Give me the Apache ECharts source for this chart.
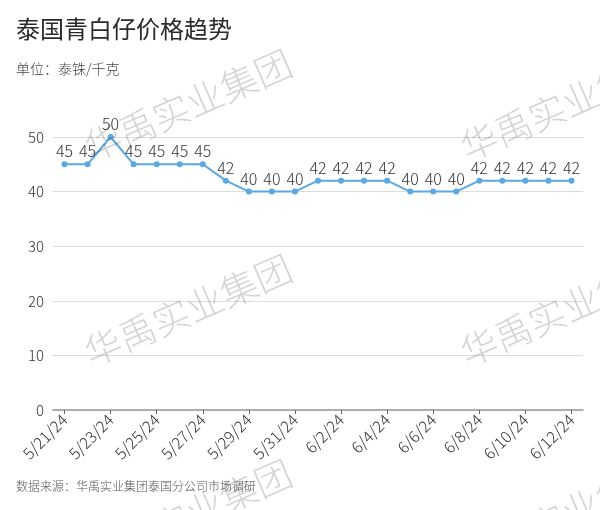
<!DOCTYPE html>
<html>
<head>
<meta charset="utf-8">
<script src="https://cdn.jsdelivr.net/npm/echarts@6/dist/echarts.min.js"></script>
<style>
html,body{margin:0;padding:0;background:#fff;}
#c{width:600px;height:510px;}
</style>
</head>
<body>
<div id="c"></div>
<script>
var categories = ['5/21/24','5/22/24','5/23/24','5/24/24','5/25/24','5/26/24','5/27/24','5/28/24','5/29/24','5/30/24','5/31/24','6/1/24','6/2/24','6/3/24','6/4/24','6/5/24','6/6/24','6/7/24','6/8/24','6/9/24','6/10/24','6/11/24','6/12/24'];
var prices = [45,45,50,45,45,45,45,42,40,40,40,42,42,42,42,40,40,40,42,42,42,42,42];
var yTicks = [0,10,20,30,40,50];
var titleText = '泰国青白仔价格趋势';
var unitText = '单位：泰铢/千克';
var sourceText = '数据来源：华禹实业集团泰国分公司市场调研';
var watermarkText = '华禹实业集团';

var font = '"Noto Sans CJK SC", "Noto Sans", sans-serif';
var chart = echarts.init(document.getElementById('c'), null, {renderer:'canvas'});

var wmPos = [[188,105],[564,105],[188,310],[564,310],[188,515],[564,515]];
var graphics = [
  {type:'text', left:16, top:17, style:{text:titleText, font:'24px '+font, fill:'#2a2a2a'}},
  {type:'text', left:16, top:62, style:{text:unitText, font:'300 14px '+font, fill:'#444'}},
  {type:'text', left:16, top:480, style:{text:sourceText, font:'300 12px '+font, fill:'#555'}}
];
wmPos.forEach(function(p){
  graphics.push({type:'text', x:p[0], y:p[1], rotation:0.41, z:100, silent:true,
    style:{text:watermarkText, font:'300 37px '+font, fill:'rgba(0,0,0,0.17)', textAlign:'center', textVerticalAlign:'middle'}});
});

chart.setOption({
  animation:false,
  textStyle:{fontFamily:font},
  grid:{left:53, right:17, top:137, bottom:100, containLabel:false},
  graphic:graphics,
  xAxis:{
    type:'category', data:categories, boundaryGap:true,
    axisLine:{lineStyle:{color:'#999', width:1.5}},
    axisTick:{show:true, interval:1, alignWithLabel:true, length:4, lineStyle:{color:'#666'}},
    axisLabel:{interval:1, rotate:45, fontSize:16, fontWeight:300, color:'#333', margin:7, fontFamily:font}
  },
  yAxis:{
    type:'value', min:yTicks[0], max:yTicks[yTicks.length-1], interval:10,
    axisLine:{show:false}, axisTick:{show:false},
    axisLabel:{fontSize:15, fontWeight:300, color:'#333', margin:9, fontFamily:font},
    splitLine:{lineStyle:{color:'#dcdcdc'}}
  },
  series:[{
    type:'line', data:prices,
    lineStyle:{color:'#5ba8e3', width:2},
    itemStyle:{color:'#5ba8e3'},
    symbol:'circle', symbolSize:6,
    label:{show:true, position:'top', distance:2, fontSize:16, fontWeight:300, color:'#333', fontFamily:font}
  }]
});
</script>
</body>
</html>
